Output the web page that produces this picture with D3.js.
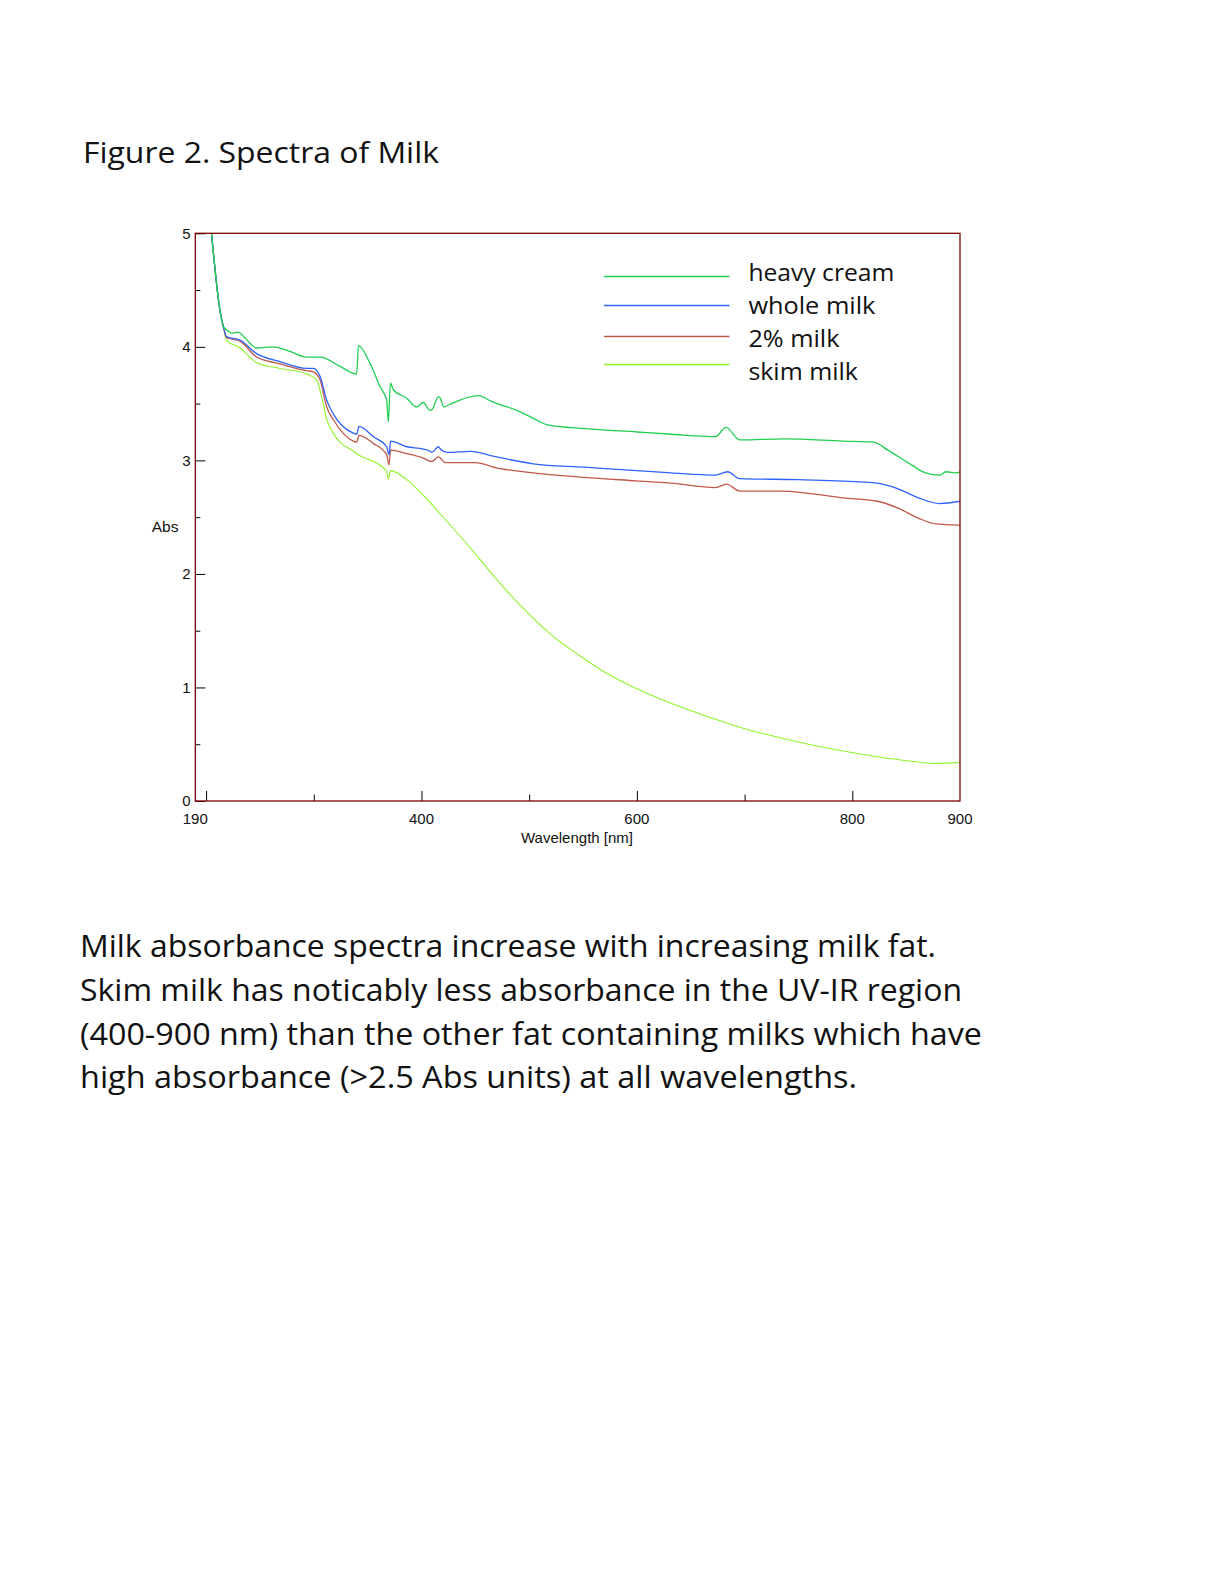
<!DOCTYPE html>
<html>
<head>
<meta charset="utf-8">
<script src="https://cdn.jsdelivr.net/npm/d3@7"></script>
<style>
  html, body { margin: 0; padding: 0; background: #ffffff; }
  svg { display: block; }
</style>
</head>
<body>
<script>
// ---------------- data ----------------
const seriesNames = ["heavy cream", "whole milk", "2% milk", "skim milk"];
const seriesColors = ["#1fcf4f", "#2f62ff", "#c0584a", "#8cf52a"];

const commonStart = [[205, 5.0], [207.4, 4.77], [210.4, 4.5], [212.9, 4.32], [216, 4.18]];

const heavyCream = [[219, 4.15], [224, 4.12], [230, 4.13], [236, 4.08], [247, 3.99], [262, 4.0], [278, 3.96],
  [293, 3.91], [306, 3.91], [324, 3.83], [339.8, 3.76], [341.5, 4.01], [352, 3.86], [361.5, 3.65], [367.7, 3.53],
  [369.2, 3.34], [371.2, 3.68], [374, 3.62], [386, 3.55], [395.5, 3.47], [401.7, 3.51], [408, 3.44], [410, 3.45],
  [415.6, 3.56], [417.4, 3.55], [420.7, 3.47], [425.4, 3.49], [452.6, 3.57], [465, 3.52], [491, 3.43], [504, 3.37],
  [518, 3.31], [552, 3.28], [600, 3.25], [632, 3.23], [673, 3.21], [682.7, 3.29], [695.5, 3.18], [737, 3.19],
  [791, 3.17], [820, 3.16], [833, 3.09], [855, 2.96], [868, 2.89], [881, 2.87], [887, 2.9], [897, 2.89], [900, 2.9]];

const wholeMilk = [[219, 4.09], [231.5, 4.06], [247, 3.94], [268.6, 3.87], [293.4, 3.81], [299.5, 3.81], [305.8, 3.74],
  [312, 3.53], [318.1, 3.41], [336.7, 3.24], [339.8, 3.23], [342, 3.3], [355.2, 3.21], [367.7, 3.12], [369.8, 3.05],
  [371.4, 3.17], [386.3, 3.12], [401.7, 3.1], [408, 3.08], [409.5, 3.07], [415.8, 3.12], [417.5, 3.1], [423.8, 3.07],
  [446, 3.08], [465.4, 3.04], [503.8, 2.97], [551.7, 2.94], [599.6, 2.91], [631.6, 2.89], [673, 2.87], [684.3, 2.9],
  [695.5, 2.84], [750, 2.83], [807, 2.81], [823, 2.8], [842.5, 2.75], [861.6, 2.67], [881, 2.62], [900, 2.64]];

const twoPercentMilk = [[219, 4.08], [231.5, 4.05], [247, 3.91], [268.6, 3.85], [293.4, 3.79], [299.5, 3.78],
  [305.8, 3.71], [312, 3.47], [318.1, 3.36], [336.7, 3.17], [339.8, 3.16], [342, 3.22], [355.2, 3.15], [367.7, 3.05],
  [369.8, 2.96], [371.4, 3.09], [386.3, 3.06], [401.7, 3.02], [409.5, 2.99], [415.8, 3.03], [422.3, 2.98],
  [449.5, 2.98], [471.8, 2.93], [503.8, 2.89], [551.7, 2.85], [599.6, 2.82], [631.6, 2.8], [673, 2.76], [683.3, 2.79],
  [695.5, 2.73], [733.8, 2.73], [791.4, 2.67], [823.3, 2.64], [842.5, 2.58], [861.6, 2.49], [877.6, 2.44], [900, 2.43]];

const skimMilk = [[219, 4.06], [231.5, 3.99], [247, 3.86], [268.6, 3.81], [293.4, 3.76], [302.7, 3.71], [307.3, 3.56],
  [312, 3.36], [318.1, 3.24], [336.7, 3.08], [341.3, 3.05], [355.2, 2.99], [367.7, 2.9], [369.2, 2.84], [371.4, 2.91],
  [386.3, 2.83], [404.8, 2.66], [417.3, 2.53], [439.8, 2.29], [455.8, 2.11], [471.8, 1.93], [494.1, 1.7], [519.7, 1.47],
  [545.3, 1.29], [567.6, 1.15], [599.6, 0.99], [631.6, 0.86], [663.5, 0.75], [695.5, 0.65], [727.4, 0.57],
  [759.4, 0.5], [791.4, 0.44], [823.3, 0.39], [855.2, 0.35], [877.6, 0.33], [900, 0.34]];

const xMajorTicks = [200, 400, 600, 800];
const xMinorTicks = [300, 500, 700];
const xTickLabels = [190, 400, 600, 800, 900];
const yMajorTicks = [0, 1, 2, 3, 4, 5];
const yMinorTicks = [0.5, 1.5, 2.5, 3.5, 4.5];

const titleText = "Figure 2. Spectra of Milk";
const bodyLines = [
  "Milk absorbance spectra increase with increasing milk fat.",
  "Skim milk has noticably less absorbance in the UV-IR region",
  "(400-900 nm) than the other fat containing milks which have",
  "high absorbance (>2.5 Abs units) at all wavelengths."
];

// ---------------- layout ----------------
const W = 1224, H = 1584;
const plot = { left: 195.3, right: 960, top: 233.3, bottom: 801 };

const svg = d3.select("body").append("svg").attr("width", W).attr("height", H);
svg.append("rect").attr("width", W).attr("height", H).attr("fill", "#fff");

const x = d3.scaleLinear().domain([190, 900]).range([plot.left, plot.right]);
const y = d3.scaleLinear().domain([0, 5]).range([plot.bottom, plot.top]);

// title
svg.append("text").attr("x", 83).attr("y", 162.5)
  .attr("font-family", "'Open Sans', 'Noto Sans', sans-serif").attr("font-size", 29)
  .attr("textLength", 356).attr("lengthAdjust", "spacingAndGlyphs")
  .attr("fill", "#111").text(titleText);

// body text
const bodyBaselines = [956.7, 1000.7, 1044.7, 1088.2];
const bodyWidths = [856, 882, 902, 777];
svg.selectAll("text.body").data(bodyLines).enter().append("text")
  .attr("class", "body")
  .attr("x", 80).attr("y", (d, i) => bodyBaselines[i])
  .attr("font-family", "'Open Sans', 'Noto Sans', sans-serif").attr("font-size", 30.5)
  .attr("textLength", (d, i) => bodyWidths[i]).attr("lengthAdjust", "spacingAndGlyphs")
  .attr("fill", "#111").text(d => d);

// clip
svg.append("clipPath").attr("id", "clip").append("rect")
  .attr("x", plot.left).attr("y", plot.top)
  .attr("width", plot.right - plot.left).attr("height", plot.bottom - plot.top);

// series
const seriesData = [heavyCream, wholeMilk, twoPercentMilk, skimMilk];
const line = d3.line().x(d => x(d[0])).y(d => y(d[1])).curve(d3.curveMonotoneX);
const g = svg.append("g").attr("clip-path", "url(#clip)");
[3, 2, 1, 0].forEach(i => {
  g.append("path").datum(commonStart.concat(seriesData[i]))
    .attr("d", line).attr("fill", "none")
    .attr("stroke", seriesColors[i]).attr("stroke-width", i === 3 ? 1.1 : 1.3)
    .attr("stroke-linejoin", "round");
});

// ticks (inward)
const axisFont = "'Liberation Sans', Arial, sans-serif";
const xAxisG = svg.append("g").attr("transform", `translate(0,${plot.bottom})`);
xAxisG.call(d3.axisBottom(x).tickValues(xMajorTicks).tickSize(-10).tickFormat(""))
  .call(a => a.select(".domain").remove())
  .call(a => a.selectAll("line").attr("stroke", "#000"));
const xAxisMinor = svg.append("g").attr("transform", `translate(0,${plot.bottom})`);
xAxisMinor.call(d3.axisBottom(x).tickValues(xMinorTicks).tickSize(-6.5).tickFormat(""))
  .call(a => a.select(".domain").remove())
  .call(a => a.selectAll("line").attr("stroke", "#000"));

const yAxisG = svg.append("g").attr("transform", `translate(${plot.left},0)`);
yAxisG.call(d3.axisLeft(y).tickValues(yMajorTicks).tickSize(-10).tickFormat(""))
  .call(a => a.select(".domain").remove())
  .call(a => a.selectAll("line").attr("stroke", "#000"));
const yAxisMinor = svg.append("g").attr("transform", `translate(${plot.left},0)`);
yAxisMinor.call(d3.axisLeft(y).tickValues(yMinorTicks).tickSize(-5).tickFormat(""))
  .call(a => a.select(".domain").remove())
  .call(a => a.selectAll("line").attr("stroke", "#000"));

// tick labels
svg.selectAll("text.xl").data(xTickLabels).enter().append("text")
  .attr("class", "xl").attr("x", d => x(d)).attr("y", 823.5)
  .attr("text-anchor", "middle").attr("font-family", axisFont).attr("font-size", 15)
  .attr("fill", "#111").text(d => d);
svg.selectAll("text.yl").data(yMajorTicks).enter().append("text")
  .attr("class", "yl").attr("x", 190.5).attr("y", d => y(d) + 5.3)
  .attr("text-anchor", "end").attr("font-family", axisFont).attr("font-size", 15)
  .attr("fill", "#111").text(d => d);

// axis titles
svg.append("text").attr("x", 577).attr("y", 843.3).attr("text-anchor", "middle")
  .attr("font-family", axisFont).attr("font-size", 15).attr("fill", "#111").text("Wavelength [nm]");
svg.append("text").attr("x", 151.7).attr("y", 532.3)
  .attr("font-family", axisFont).attr("font-size", 15.5).attr("fill", "#111").text("Abs");

// frame
svg.append("rect").attr("x", plot.left).attr("y", plot.top)
  .attr("width", plot.right - plot.left).attr("height", plot.bottom - plot.top)
  .attr("fill", "none").attr("stroke", "#7a0000").attr("stroke-width", 1.3);

// legend
const legendLineY = [276.5, 305.5, 336.5, 364.5];
const legendTextY = [281, 314, 347, 380];
const legendTextW = [146, 127, 91, 109.5];
const lg = svg.append("g");
seriesNames.forEach((name, i) => {
  lg.append("line").attr("x1", 604).attr("x2", 729.5)
    .attr("y1", legendLineY[i]).attr("y2", legendLineY[i])
    .attr("stroke", seriesColors[i]).attr("stroke-width", 1.5);
  lg.append("text").attr("x", 748.4).attr("y", legendTextY[i])
    .attr("font-family", "'Open Sans', 'Noto Sans', sans-serif").attr("font-size", 24)
    .attr("textLength", legendTextW[i]).attr("lengthAdjust", "spacingAndGlyphs")
    .attr("fill", "#111").text(name);
});
</script>
</body>
</html>
